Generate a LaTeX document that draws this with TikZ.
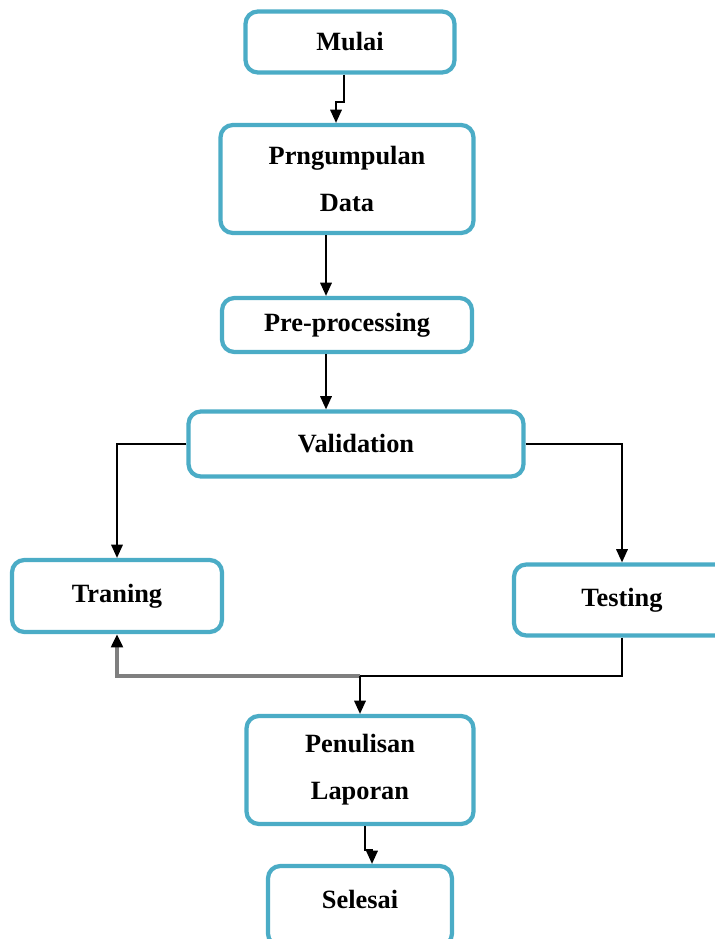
\documentclass[tikz,border=0pt]{standalone}
\usepackage{fontspec}
\setmainfont{Liberation Serif}
\usepackage{tikz}
\usetikzlibrary{arrows.meta}
\definecolor{boxline}{HTML}{4BACC6}
\definecolor{joinline}{HTML}{7F7F7F}

\begin{document}
\begin{tikzpicture}[
  x=0.02cm, y=-0.02cm,
  box/.style={
    rectangle,
    rounded corners=7pt,
    draw=boxline,
    fill=white,
    line width=2.4pt,
    align=center,
    inner sep=0pt,
    font=\bfseries\fontsize{15}{26.7}\selectfont
  },
  arrow/.style={-{Triangle[length=7.5pt,width=6.5pt,color=black]}, line width=1.1pt, draw=black}
]
\useasboundingbox (0,0) rectangle (715,939);

\node[box, minimum width=4.18cm, minimum height=1.22cm] (mulai) at (350,42) {Mulai};
\node[box, minimum width=5.06cm, minimum height=2.16cm] (kumpul) at (347,179) {Prngumpulan\\Data};
\node[box, minimum width=5.0cm, minimum height=1.08cm] (prep) at (347,325) {Pre-processing};
\node[box, minimum width=6.7cm, minimum height=1.3cm] (valid) at (356,444) {Validation};
\node[box, minimum width=4.2cm, minimum height=1.44cm] (train) at (117,596) {Traning};
\node[box, minimum width=4.32cm, minimum height=1.42cm] (test) at (622,600) {Testing};
\node[box, minimum width=4.54cm, minimum height=2.16cm] (tulis) at (360,770) {Penulisan\\Laporan};
\node[box, minimum width=3.68cm, minimum height=1.6cm, text depth=0.25cm] (selesai) at (360,906) {Selesai};
\coordinate (join) at (360,676);

\draw[arrow] ([xshift=-0.12cm]mulai.south) -- ++(0,27) -| ([xshift=-0.22cm]kumpul.north);
\draw[arrow] ([xshift=-0.42cm]kumpul.south) -- ([xshift=-0.42cm]prep.north);
\draw[arrow] ([xshift=-0.42cm]prep.south) -- ([xshift=-0.6cm]valid.north);
\draw[arrow] (valid.west) -| (train.north);
\draw[arrow] (valid.east) -| (test.north);
\draw[line width=1.1pt] (test.south) |- (join);
\draw[arrow, draw=joinline, line width=2pt] (join) -| (train.south);
\draw[arrow] (join) -- (tulis.north);
\draw[arrow] ([xshift=0.1cm]tulis.south) -- ++(0,24) -| ([xshift=0.24cm]selesai.north);
\end{tikzpicture}
\end{document}
